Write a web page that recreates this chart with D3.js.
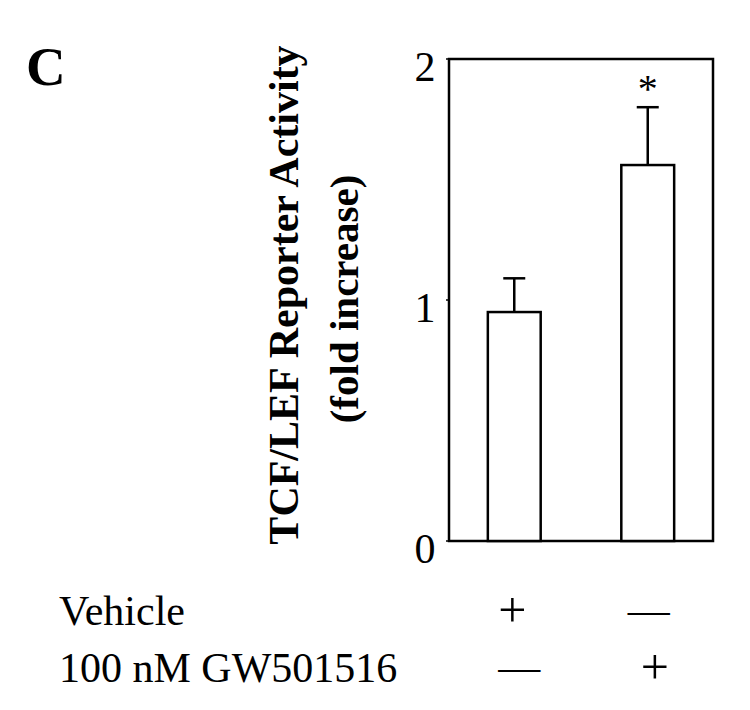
<!DOCTYPE html>
<html>
<head>
<meta charset="utf-8">
<script src="https://cdn.jsdelivr.net/npm/d3@7"></script>
<style>
  body { margin: 0; background: #fff; }
  text { font-family: "Liberation Serif", "DejaVu Serif", serif; fill: #000; }
</style>
</head>
<body>
<div class="canvas"></div>
<script>
// data
const groups = ["vehicle", "gw"];
const means = [0.95, 1.56];
const errors = [0.14, 0.24];
const signif = ["", "*"];
const yTicks = [0, 1, 2];
const rowLabels = ["Vehicle", "100 nM GW501516"];
const vehicleMarks = ["+", "—"];
const gwMarks = ["—", "+"];

// dimensions
const w = 750;
const h = 710;
const plot = { left: 449, right: 713, top: 59, bottom: 541 };

const svg = d3.select(".canvas").append("svg").attr("width", w).attr("height", h);

const x = d3.scaleBand().domain(groups).range([plot.left, plot.right])
  .paddingInner(0.604).paddingOuter(0.291);
const y = d3.scaleLinear().domain([0, 2]).range([plot.bottom, plot.top]);

// panel letter
svg.append("text")
  .attr("x", 26)
  .attr("y", 85)
  .style("font-size", "55px")
  .style("font-weight", "bold")
  .text("C");

// plot frame
svg.append("rect")
  .attr("x", plot.left)
  .attr("y", plot.top)
  .attr("width", plot.right - plot.left)
  .attr("height", plot.bottom - plot.top)
  .attr("fill", "none")
  .attr("stroke", "#000")
  .attr("stroke-width", 2.5);

// y axis ticks + labels
const yAxis = svg.append("g").attr("class", "y-axis");
yAxis.selectAll("line")
  .data(yTicks)
  .enter()
  .append("line")
  .attr("x1", plot.left - 3)
  .attr("x2", plot.left)
  .attr("y1", (d) => y(d))
  .attr("y2", (d) => y(d))
  .attr("stroke", "#000")
  .attr("stroke-width", 1.5);
yAxis.selectAll("text")
  .data(yTicks)
  .enter()
  .append("text")
  .attr("x", 425)
  .attr("y", (d) => y(d) + 22)
  .attr("text-anchor", "middle")
  .style("font-size", "42px")
  .text((d) => d);

// y axis title (two lines, rotated)
svg.append("text")
  .attr("transform", `translate(298, 295) rotate(-90)`)
  .attr("text-anchor", "middle")
  .style("font-size", "42px")
  .style("font-weight", "bold")
  .text("TCF/LEF Reporter Activity");
svg.append("text")
  .attr("transform", `translate(358, 299) rotate(-90)`)
  .attr("text-anchor", "middle")
  .style("font-size", "41px")
  .style("font-weight", "bold")
  .text("(fold increase)");

// error bars (drawn first so the bar outline sits on top)
const err = svg.append("g").attr("class", "errors");
err.selectAll("line.stem")
  .data(groups)
  .enter()
  .append("line")
  .attr("class", "stem")
  .attr("x1", (d) => x(d) + x.bandwidth() / 2)
  .attr("x2", (d) => x(d) + x.bandwidth() / 2)
  .attr("y1", (d, i) => y(means[i]))
  .attr("y2", (d, i) => y(means[i] + errors[i]))
  .attr("stroke", "#000")
  .attr("stroke-width", 2.5);
err.selectAll("line.cap")
  .data(groups)
  .enter()
  .append("line")
  .attr("class", "cap")
  .attr("x1", (d) => x(d) + x.bandwidth() / 2 - 11)
  .attr("x2", (d) => x(d) + x.bandwidth() / 2 + 11)
  .attr("y1", (d, i) => y(means[i] + errors[i]))
  .attr("y2", (d, i) => y(means[i] + errors[i]))
  .attr("stroke", "#000")
  .attr("stroke-width", 2.5);

// bars
svg.append("g")
  .selectAll("rect")
  .data(groups)
  .enter()
  .append("rect")
  .attr("x", (d) => x(d))
  .attr("y", (d, i) => y(means[i]))
  .attr("width", x.bandwidth())
  .attr("height", (d, i) => y(0) - y(means[i]))
  .attr("fill", "#fff")
  .attr("stroke", "#000")
  .attr("stroke-width", 2.5);

// significance marks
svg.append("g")
  .selectAll("text")
  .data(groups)
  .enter()
  .append("text")
  .attr("x", (d) => x(d) + x.bandwidth() / 2)
  .attr("y", (d, i) => y(means[i] + errors[i]) - 5)
  .attr("text-anchor", "middle")
  .style("font-size", "40px")
  .text((d, i) => signif[i]);

// treatment table below the chart
const rowY = [625, 682];
svg.append("g")
  .selectAll("text")
  .data(rowLabels)
  .enter()
  .append("text")
  .attr("x", 59)
  .attr("y", (d, i) => rowY[i])
  .style("font-size", "42px")
  .text((d) => d);

const rows = [vehicleMarks, gwMarks];
const markShift = [[-2, 1], [5, 7]];
rows.forEach((marks, r) => {
  svg.append("g")
    .selectAll("text")
    .data(marks)
    .enter()
    .append("text")
    .attr("x", (d, i) => x(groups[i]) + x.bandwidth() / 2 + markShift[r][i])
    .attr("y", (d) => rowY[r] + (d === "+" ? 2 : -1))
    .attr("text-anchor", "middle")
    .style("font-size", (d) => (d === "+" ? "50px" : "42px"))
    .text((d) => d);
});
</script>
</body>
</html>
